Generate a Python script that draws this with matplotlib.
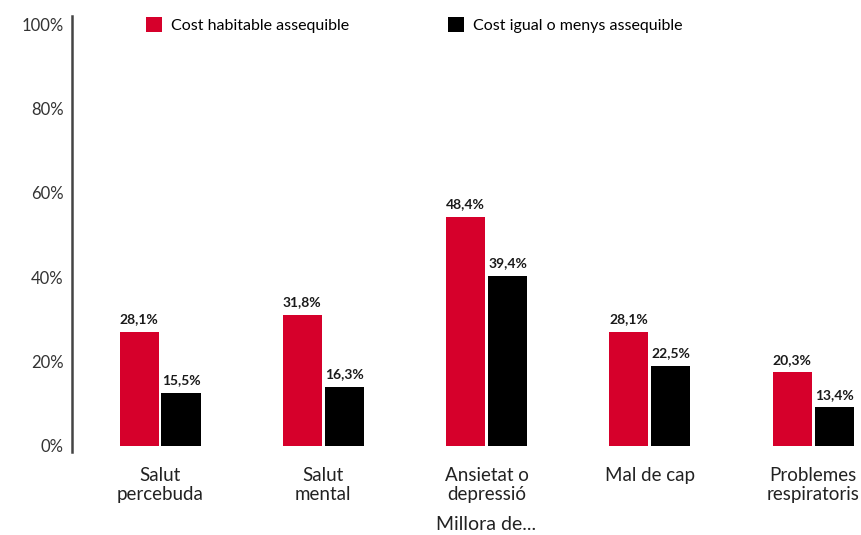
import numpy as np
import matplotlib.pyplot as plt

plt.rcParams['font.family'] = ['Lato', 'DejaVu Sans']

categories = ["Salut\npercebuda", "Salut\nmental", "Ansietat o\ndepressió", "Mal de cap", "Problemes\nrespiratoris"]
series_names = ["Cost habitable assequible", "Cost igual o menys assequible"]
# bar heights as drawn in the picture (they don't quite follow the printed labels)
red_vals = [27.0, 31.1, 54.4, 27.0, 17.4]
black_vals = [12.6, 13.9, 40.3, 19.0, 9.1]
red_labels = ["28,1%", "31,8%", "48,4%", "28,1%", "20,3%"]
black_labels = ["15,5%", "16,3%", "39,4%", "22,5%", "13,4%"]
yticks = [0, 20, 40, 60, 80, 100]

RED = "#d6002b"
BLACK = "#000000"

fig = plt.figure(figsize=(8.62, 5.35), dpi=100)
ax = fig.add_axes([72 / 862, (535 - 452) / 535, 1 - 72 / 862, (452 - 16) / 535])

x = np.arange(len(categories))
w = 0.239
off = 0.1286
b1 = ax.bar(x - off, red_vals, w, color=RED)
b2 = ax.bar(x + off, black_vals, w, color=BLACK)

for bars, labels in [(b1, red_labels), (b2, black_labels)]:
    for rect, lab in zip(bars, labels):
        ax.text(rect.get_x() + rect.get_width() / 2, rect.get_height() + 1.6, lab,
                ha='center', va='bottom', fontsize=10, fontweight='bold', color='#1a1a1a')

ax.set_xlim(-0.539, 4.299)
ax.set_ylim(-1.5, 102)
ax.set_yticks(yticks)
ax.set_yticklabels([f"{t}%" for t in yticks], fontsize=12, color='#333333')
ax.set_xticks(x)
ax.set_xticklabels(categories, fontsize=13.5, color='#222222', linespacing=1.15)
ax.tick_params(axis='both', length=0)
ax.tick_params(axis='y', pad=6)
ax.tick_params(axis='x', pad=11)
ax.set_xlabel("Millora de...", fontsize=14, color='#222222')
ax.xaxis.set_label_coords((486 - 72) / 790, -(524 - 452) / 436, transform=ax.transAxes)
ax.xaxis.label.set_va('center')

for s in ['top', 'right', 'bottom']:
    ax.spines[s].set_visible(False)
ax.spines['left'].set_color('#444444')
ax.spines['left'].set_linewidth(1.8)

ax.legend([b1, b2], series_names, loc='upper left', bbox_to_anchor=(0.076, 1.03), ncol=2,
          frameon=False, handlelength=1.0, handleheight=1.0,
          columnspacing=6.2, handletextpad=0.55, prop={'size': 11.5})

fig.savefig("out.png", dpi=100)
